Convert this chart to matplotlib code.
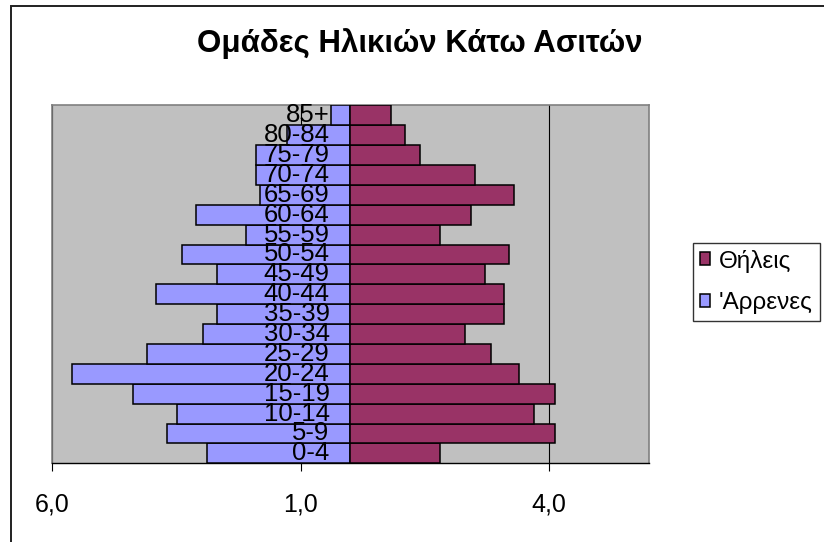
import matplotlib
matplotlib.use("Agg")
import matplotlib.pyplot as plt
from matplotlib.patches import Rectangle
from matplotlib.ticker import FuncFormatter

plt.rcParams['font.family'] = ['Liberation Sans', 'DejaVu Sans']

# age groups, bottom to top
age_groups = ['0-4', '5-9', '10-14', '15-19', '20-24', '25-29', '30-34', '35-39', '40-44',
              '45-49', '50-54', '55-59', '60-64', '65-69', '70-74', '75-79', '80-84', '85+']
males = [2.89, 3.69, 3.49, 4.38, 5.60, 4.09, 2.97, 2.68, 3.91,
         2.68, 3.38, 2.09, 3.10, 1.81, 1.89, 1.89, 1.27, 0.39]
females = [1.81, 4.11, 3.70, 4.11, 3.39, 2.82, 2.30, 3.10, 3.10,
           2.70, 3.19, 1.81, 2.42, 3.30, 2.50, 1.41, 1.09, 0.81]
x_ticks = [-6, -1, 4]

W, H = 824, 542
fig = plt.figure(figsize=(W / 100, H / 100), dpi=100)

# chart area frame (runs off the right/bottom of the picture)
fig.patches.append(Rectangle((11 / W, -0.1), 1.2, 1 - 5.5 / H + 0.1, transform=fig.transFigure,
                             fill=False, edgecolor='#202020', linewidth=1.4))

ax = fig.add_axes([52 / W, (H - 463.3) / H, (648.7 - 52) / W, (463.3 - 105.3) / H])
ax.set_facecolor('#C0C0C0')

y = list(range(len(age_groups)))
ax.barh(y, [-m for m in males], height=1.0, color='#9999FF', edgecolor='black', linewidth=1.1,
        zorder=3, label="'Αρρενες")
ax.barh(y, females, height=1.0, color='#993366', edgecolor='black', linewidth=1.1,
        zorder=3, label='Θήλεις')

ax.set_xlim(-6, 6)
ax.set_ylim(-0.5, len(age_groups) - 0.5)
ax.set_yticks([])
ax.set_xticks(x_ticks)
ax.xaxis.set_major_formatter(FuncFormatter(lambda v, p: ('%.1f' % abs(v)).replace('.', ',')))
ax.tick_params(axis='x', direction='out', length=6, width=0.8, color='black',
               labelsize=18, pad=15)
for xt in x_ticks:
    ax.axvline(xt, color='black', linewidth=0.8, zorder=1)

for side in ['top', 'left', 'right']:
    ax.spines[side].set_color('#808080')
    ax.spines[side].set_linewidth(1.2)
ax.spines['bottom'].set_color('black')
ax.spines['bottom'].set_linewidth(1.0)

for yi, lab in zip(y, age_groups):
    ax.annotate(lab, xy=(0, yi), xytext=(-15, 0), textcoords='offset points',
                ha='right', va='center', fontsize=18.5, zorder=5)

fig.text(420 / W, 1 - 44 / H, 'Ομάδες Ηλικιών Κάτω Ασιτών', ha='center', va='center',
         fontsize=22.5, fontweight='bold')

handles, labels = ax.get_legend_handles_labels()
leg = fig.legend(handles[::-1], labels[::-1], loc='upper left',
                 bbox_to_anchor=(692.7 / W, 1 - 242.7 / H), fontsize=17.5,
                 frameon=True, fancybox=False, handlelength=0.45, handleheight=0.45,
                 handletextpad=0.35, labelspacing=0.8, borderpad=0.28, borderaxespad=0)
leg.get_frame().set_edgecolor('black')
leg.get_frame().set_linewidth(1.0)

fig.savefig('out.png', dpi=100)
